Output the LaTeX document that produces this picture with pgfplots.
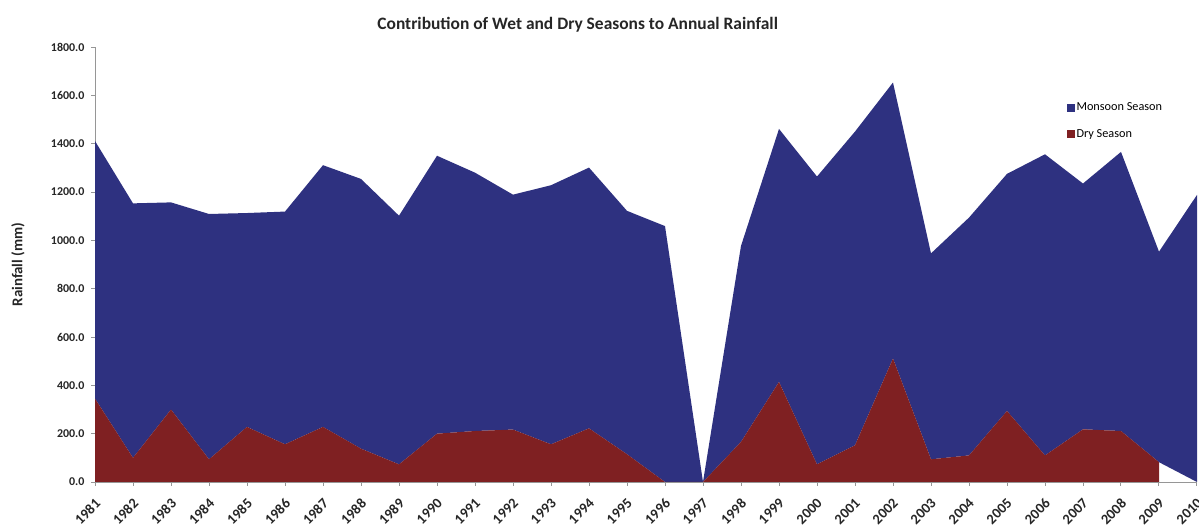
\documentclass[border=0pt]{standalone}
\usepackage{pgfplots}
\pgfplotsset{compat=1.18}
\usepgfplotslibrary{fillbetween}
\usepackage{pgfplotstable}
\usepackage{fontspec}
\setmainfont{Carlito}

\definecolor{monsoon}{RGB}{46,49,128}
\definecolor{dryseason}{RGB}{127,32,34}
\definecolor{axisgrey}{RGB}{150,150,150}

% dry = dry season rainfall, total = dry + monsoon (stacked top)
\pgfplotstableread{
year dry total
1981 345 1411
1982 100 1153
1983 300 1157
1984  94 1109
1985 228 1113
1986 156 1119
1987 228 1311
1988 138 1254
1989  73 1102
1990 200 1350
1991 211 1280
1992 217 1189
1993 156 1228
1994 222 1301
1995 115 1122
1996   0 1059
1997   0    0
1998 166  977
1999 414 1461
2000  73 1264
2001 152 1450
2002 511 1653
2003  94  946
2004 110 1094
2005 294 1275
2006 110 1356
2007 218 1235
2008 211 1366
2009  82  953
2010   0 1188
}\rain

\begin{document}
\begin{tikzpicture}
\begin{axis}[
    at={(95bp,45bp)}, anchor=south west,
    width=1102bp, height=435bp,
    scale only axis,
    xmin=1981, xmax=2010,
    ymin=0, ymax=1800,
    xtick={1981,1982,...,2010},
    ytick={0,200,...,1800},
    axis x line*=bottom,
    axis y line*=left,
    axis line style={axisgrey},
    tick style={axisgrey, line width=0.8bp},
    tick align=outside,
    major tick length=4bp,
    /pgf/number format/assume math mode=true,
    ticklabel style={font=\bfseries\fontsize{12}{14}\selectfont, text=black!85},
    xticklabel style={font=\bfseries\fontsize{14.5}{16}\selectfont,
        rotate=45, anchor=north east, inner sep=0.5bp, xshift=-8bp, yshift=-7bp,
        /pgf/number format/.cd, 1000 sep={}},
    yticklabel style={xshift=-3bp, /pgf/number format/.cd, fixed, fixed zerofill, precision=1, 1000 sep={}},
    ylabel={Rainfall (mm)},
    ylabel style={at={(axis description cs:-0.07,0.5)}, anchor=center,
        font=\bfseries\fontsize{15}{17}\selectfont, text=black!85},
    title={Contribution of Wet and Dry Seasons to Annual Rainfall},
    title style={at={(axis description cs:0.438,1)}, anchor=base, yshift=12bp,
        font=\bfseries\fontsize{17.5}{20}\selectfont, text=black!85},
    legend style={at={(axis description cs:0.882,0.877)}, anchor=north west,
        draw=none, fill=none, font=\fontsize{12.3}{14}\selectfont,
        row sep=13bp, inner sep=0pt},
    legend cell align=left,
    clip=false,
]
\addplot[name path=total, draw=none, forget plot] table[x=year, y=total] {\rain};
\addplot[name path=dry, draw=none, forget plot] table[x=year, y=dry] {\rain};
\addplot[name path=base, draw=none, forget plot] coordinates {(1981,0) (2010,0)};
\addplot[fill=monsoon, draw=none, forget plot] fill between[of=total and dry];
\addplot[fill=dryseason, draw=none, forget plot] fill between[of=dry and base, soft clip={domain=1981:2009}];
\addlegendimage{legend image code/.code={\fill[monsoon] (0bp,-3.5bp) rectangle (7bp,3.5bp);}}
\addlegendentry{Monsoon Season}
\addlegendimage{legend image code/.code={\fill[dryseason] (0bp,-3.5bp) rectangle (7bp,3.5bp);}}
\addlegendentry{Dry Season}
\end{axis}
\pgfresetboundingbox
\useasboundingbox (0,0) rectangle (1199bp,527bp);
\end{tikzpicture}
\end{document}
